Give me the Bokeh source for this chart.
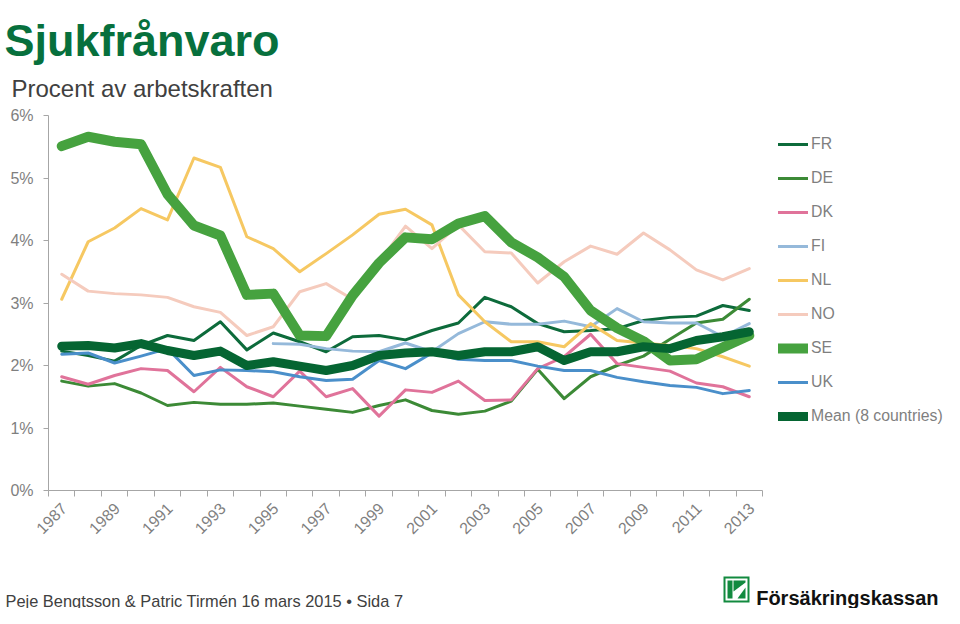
import math
from bokeh.plotting import figure
from bokeh.models import (Range1d, FixedTicker, PrintfTickFormatter, CustomJSTickFormatter,
                          Legend, LegendItem, Label, BoxAnnotation, PolyAnnotation,
                          ColumnDataSource)
from bokeh.embed import file_html
from bokeh.resources import INLINE

NaN = float("nan")

years = list(range(1987, 2014))
year_labels = [y for y in years if y % 2 == 1]

FR = [2.23, 2.16, 2.07, 2.32, 2.48, 2.40, 2.70, 2.25, 2.52, 2.38, 2.22, 2.46, 2.48, 2.41,
      2.56, 2.68, 3.09, 2.94, 2.67, 2.54, 2.56, 2.59, 2.72, 2.77, 2.79, 2.96, 2.88]
DE = [1.75, 1.67, 1.71, 1.56, 1.36, 1.41, 1.38, 1.38, 1.40, 1.35, 1.30, 1.25, 1.36, 1.45,
      1.28, 1.22, 1.27, 1.43, 1.94, 1.47, 1.82, 2.00, 2.15, 2.42, 2.68, 2.74, 3.06]
DK = [1.82, 1.70, 1.84, 1.95, 1.92, 1.58, 1.97, 1.66, 1.50, 1.91, 1.50, 1.63, 1.19, 1.61,
      1.57, 1.75, 1.44, 1.45, 1.95, 2.14, 2.50, 2.03, 1.97, 1.91, 1.72, 1.66, 1.50]
FI = [NaN, NaN, NaN, NaN, NaN, NaN, NaN, NaN, 2.35, 2.34, 2.27, 2.23, 2.22, 2.36,
      2.22, 2.51, 2.70, 2.66, 2.66, 2.71, 2.62, 2.91, 2.70, 2.68, 2.68, 2.46, 2.67]
NL = [3.06, 3.98, 4.20, 4.51, 4.33, 5.32, 5.17, 4.06, 3.87, 3.50, 3.79, 4.09, 4.42, 4.50,
      4.25, 3.13, 2.70, 2.38, 2.38, 2.30, 2.67, 2.40, 2.36, 2.32, 2.27, 2.14, 1.99]
NO = [3.46, 3.19, 3.15, 3.13, 3.09, 2.94, 2.85, 2.48, 2.62, 3.18, 3.31, 3.06, 3.65, 4.23,
      3.87, 4.25, 3.82, 3.80, 3.32, 3.66, 3.91, 3.78, 4.12, 3.85, 3.53, 3.37, 3.55]
SE = [5.51, 5.66, 5.58, 5.54, 4.74, 4.24, 4.08, 3.13, 3.15, 2.48, 2.47, 3.12, 3.64, 4.05,
      4.02, 4.27, 4.39, 3.97, 3.73, 3.42, 2.88, 2.60, 2.39, 2.08, 2.10, 2.29, 2.48]
UK = [2.18, 2.20, 2.04, 2.15, 2.27, 1.84, 1.93, 1.92, 1.90, 1.82, 1.76, 1.78, 2.08, 1.95,
      2.20, 2.10, 2.08, 2.08, 1.99, 1.92, 1.92, 1.81, 1.74, 1.68, 1.65, 1.55, 1.60]
MEAN = [2.31, 2.32, 2.28, 2.35, 2.24, 2.16, 2.23, 2.00, 2.06, 1.99, 1.92, 2.00, 2.16, 2.20,
        2.22, 2.16, 2.22, 2.22, 2.30, 2.08, 2.22, 2.22, 2.30, 2.27, 2.40, 2.46, 2.54]

series_names = ["FR", "DE", "DK", "FI", "NL", "NO", "SE", "UK", "Mean (8 countries)"]
series_values = [FR, DE, DK, FI, NL, NO, SE, UK, MEAN]
series_colors = ["#0d6b3b", "#3c8a36", "#e0739a", "#95b9da", "#f6c862", "#f5cbbd",
                 "#46a23f", "#4a8fca", "#056532"]
series_widths = [3, 3, 3, 3, 3, 3, 10, 3, 9]

y_ticks = [0, 1, 2, 3, 4, 5, 6]
Y_MIN, Y_MAX = 0, 6

title_text = "Sjukfrånvaro"
subtitle_text = "Procent av arbetskraften"
footer_text = "Peje Bengtsson & Patric Tirmén 16 mars 2015 \u2022 Sida 7"
logo_text = "Försäkringskassan"

FONT = "Liberation Sans"
AXIS_GREY = "#a6a6a6"
TEXT_GREY = "#7f7f7f"

# canvas and plotting-area geometry (pixels)
W, H = 944, 608
PL, PR, PT, PB = 48, 762, 115, 490     # chart area inside the canvas

X0, X1 = years[0] - 0.5, years[-1] + 0.5
kx = (PR - PL) / (X1 - X0)            # px per year
ky = (PB - PT) / (Y_MAX - Y_MIN)      # px per percent

x_range = Range1d(X0 - PL / kx, X1 + (W - PR) / kx)
y_range = Range1d(Y_MIN - (H - PB) / ky, Y_MAX + PT / ky)


def dx(px):
    return x_range.start + px / kx


def dy(py):
    return y_range.end - py / ky


p = figure(width=W, height=H, output_backend="svg", toolbar_location=None,
           x_range=x_range, y_range=y_range, min_border=0,
           min_border_left=0, min_border_right=0, min_border_top=0, min_border_bottom=0)
p.outline_line_color = None
p.xgrid.visible = False
p.ygrid.visible = False
p.background_fill_color = "white"
p.border_fill_color = "white"

renderers = []
for name, vals, col, w in zip(series_names, series_values, series_colors, series_widths):
    src = ColumnDataSource(dict(x=years, y=vals))
    r = p.line("x", "y", source=src, line_color=col, line_width=w,
               line_cap="round", line_join="round")
    renderers.append((name, r))

# category labels sit slightly right of the category centre (as in the original)
LABEL_SHIFT = 0.08
xa = p.xaxis[0]
xa.fixed_location = Y_MIN
xa.bounds = (X0, X1)
xa.ticker = FixedTicker(ticks=[y + LABEL_SHIFT for y in year_labels],
                        minor_ticks=[X0 + i for i in range(len(years) + 1)])
xa.formatter = CustomJSTickFormatter(code="return String(Math.round(tick));")
xa.major_tick_out = 0
xa.major_tick_in = 0
xa.minor_tick_out = 6
xa.minor_tick_in = 0
xa.minor_tick_line_color = AXIS_GREY
xa.axis_line_color = AXIS_GREY
xa.major_label_orientation = math.pi / 4
xa.major_label_text_font = FONT
xa.major_label_text_font_size = "16px"
xa.major_label_text_color = TEXT_GREY
xa.major_label_standoff = 9

ya = p.yaxis[0]
ya.fixed_location = X0
ya.bounds = (Y_MIN, Y_MAX)
ya.ticker = FixedTicker(ticks=y_ticks)
ya.formatter = PrintfTickFormatter(format="%d%%")
ya.major_tick_out = 5
ya.major_tick_in = 0
ya.minor_tick_out = 0
ya.minor_tick_in = 0
ya.major_tick_line_color = AXIS_GREY
ya.axis_line_color = AXIS_GREY
ya.major_label_text_font = FONT
ya.major_label_text_font_size = "16px"
ya.major_label_text_color = TEXT_GREY
ya.major_label_standoff = 10

legend = Legend(items=[LegendItem(label=n, renderers=[r]) for n, r in renderers],
                location=(778, H - 426), orientation="vertical",
                label_text_font=FONT, label_text_font_size="15.8px",
                label_text_color=TEXT_GREY, glyph_width=30, glyph_height=20,
                label_height=20, spacing=14, label_standoff=3, padding=0, margin=0,
                border_line_color=None, background_fill_alpha=0)
p.add_layout(legend, "center")

p.add_layout(Label(x=dx(4), y=dy(40), text=title_text, text_font=FONT,
                   text_font_style="bold", text_font_size="45px", text_color="#07703d",
                   text_baseline="alphabetic"))
p.add_layout(Label(x=dx(11), y=dy(88), text=subtitle_text, text_font=FONT,
                   text_font_size="24px", text_color="#404040",
                   text_baseline="alphabetic"))
p.add_layout(Label(x=dx(5), y=dy(600), text=footer_text, text_font=FONT,
                   text_font_size="16.4px", text_color="#404040",
                   text_baseline="alphabetic"))
p.add_layout(Label(x=dx(938), y=dy(597), text=logo_text, text_font=FONT,
                   text_font_style="bold", text_font_size="20px", text_color="#111111",
                   text_align="right", text_baseline="alphabetic"))

LG = "#128a3f"
lx, ly = 723, 576  # logo mark top-left (px)


def box(l, t, r, b, c):
    p.add_layout(BoxAnnotation(left=dx(l), right=dx(r), top=dy(t), bottom=dy(b),
                               fill_color=c, fill_alpha=1, line_color=None))


def poly(pts, c):
    p.add_layout(PolyAnnotation(xs=[dx(a) for a, _ in pts], ys=[dy(b) for _, b in pts],
                                fill_color=c, fill_alpha=1, line_color=None))


box(lx, ly, lx + 26, ly + 26, LG)
box(lx + 2, ly + 2, lx + 24, ly + 24, "white")
box(lx + 4, ly + 4, lx + 9, ly + 22, LG)
poly([(lx + 10, ly + 4), (lx + 22, ly + 4), (lx + 22, ly + 6), (lx + 10, ly + 15)], LG)
poly([(lx + 14, ly + 22), (lx + 22, ly + 11), (lx + 22, ly + 22)], LG)

open("out.html", "w").write(file_html(p, INLINE))
